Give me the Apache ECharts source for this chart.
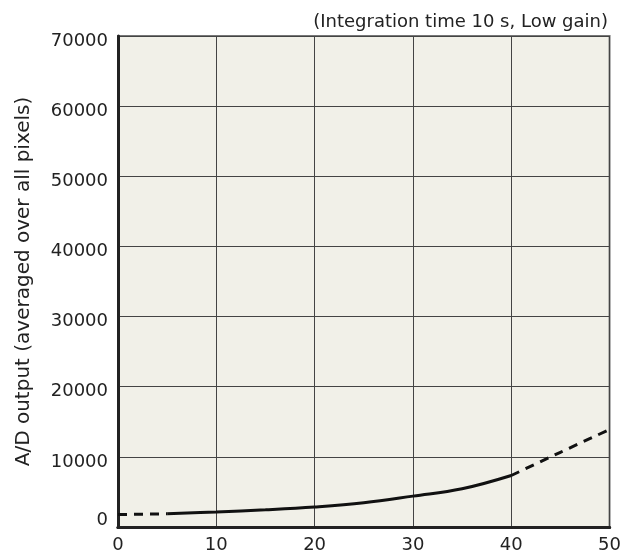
<!DOCTYPE html>
<html>
<head>
<meta charset="utf-8">
<script src="https://cdn.jsdelivr.net/npm/echarts@6/dist/echarts.min.js"></script>
<style>html,body{margin:0;padding:0;background:#fff;}#c{width:624px;height:555px;}</style>
</head>
<body>
<div id="c"></div>
<script>
const xTicks = [0, 10, 20, 30, 40, 50];
const yTicks = [0, 10000, 20000, 30000, 40000, 50000, 60000, 70000];
const dashStartX = [0, 5];
const dashStartY = [1780, 1880];
const solidX = [5, 10, 15, 20, 25, 30, 35, 40];
const solidY = [1880, 2150, 2450, 2850, 3450, 4400, 5450, 7340];
const dashEndX = [40, 45, 50];
const dashEndY = [7340, 10650, 13900];
const titleText = '(Integration time 10 s, Low gain)';
const yName = 'A/D output (averaged over all pixels)';

const pairs = (xs, ys) => xs.map((x, i) => [x, ys[i]]);
const font = 'DejaVu Sans';
const chart = echarts.init(document.getElementById('c'));
chart.setOption({
  animation: false,
  title: {
    text: titleText, right: 11, top: 8,
    textStyle: { fontFamily: font, fontSize: 18, fontWeight: 'normal', color: '#222' }
  },
  grid: {
    left: 118, right: 14, top: 36, bottom: 28,
    show: true, backgroundColor: '#f1f0e8', borderColor: '#777', borderWidth: 2
  },
  xAxis: [{
    type: 'value', min: 0, max: 50, interval: 10,
    axisLine: { show: true, onZero: false, lineStyle: { color: '#222', width: 3 } },
    axisTick: { show: false },
    splitLine: { show: true, lineStyle: { color: '#444', width: 1 } },
    axisLabel: { fontFamily: font, fontSize: 18, color: '#222', margin: 9,
      showMinLabel: true, showMaxLabel: true }
  }, {
    type: 'value', position: 'top', min: 0, max: 50, interval: 10,
    axisLine: { show: true, lineStyle: { color: '#222', width: 3 } },
    axisTick: { show: false }, axisLabel: { show: false }, splitLine: { show: false }
  }],
  yAxis: {
    type: 'value', min: 0, max: 70000, interval: 10000,
    name: yName, nameLocation: 'middle', nameGap: 84,
    nameTextStyle: { fontFamily: font, fontSize: 20, color: '#222' },
    axisLine: { show: true, lineStyle: { color: '#222', width: 3 } },
    axisTick: { show: false },
    splitLine: { show: true, lineStyle: { color: '#444', width: 1 } },
    axisLabel: {
      fontFamily: font, fontSize: 18, color: '#222', margin: 10,
      formatter: v => v === 0 ? '{z|0}' : '{n|' + v + '}',
      rich: {
        n: { fontFamily: font, fontSize: 18, color: '#222', padding: [10, 0, 0, 0] },
        z: { fontFamily: font, fontSize: 18, color: '#222', padding: [0, 0, 14, 0] }
      }
    }
  },
  series: [{
    type: 'line', data: pairs(dashStartX, dashStartY), showSymbol: false,
    lineStyle: { color: '#111', width: 3, type: [9, 7] }
  }, {
    type: 'line', data: pairs(solidX, solidY), smooth: 0.4, showSymbol: false,
    lineStyle: { color: '#111', width: 3 }
  }, {
    type: 'line', data: pairs(dashEndX, dashEndY), smooth: 0.3, showSymbol: false,
    lineStyle: { color: '#111', width: 3, type: [9, 7] }
  }]
});
</script>
</body>
</html>
